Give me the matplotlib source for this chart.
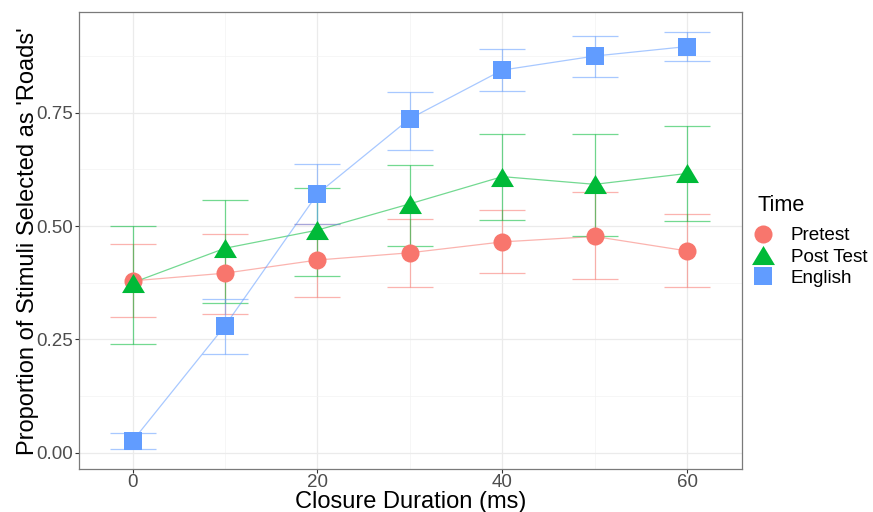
import matplotlib
matplotlib.use("Agg")
import matplotlib.pyplot as plt
from matplotlib.lines import Line2D
from matplotlib.path import Path
from matplotlib.ticker import FixedLocator

plt.rcParams['font.family'] = ['Liberation Sans', 'DejaVu Sans']

# ---- data ----
duration = [0, 10, 20, 30, 40, 50, 60]
series_names = ["Pretest", "Post Test", "English"]
legend_title = "Time"

pre_mean = [0.379, 0.396, 0.425, 0.441, 0.465, 0.477, 0.445]
pre_lo   = [0.299, 0.306, 0.344, 0.366, 0.397, 0.384, 0.366]
pre_hi   = [0.460, 0.483, 0.505, 0.516, 0.535, 0.574, 0.527]

post_mean = [0.375, 0.451, 0.491, 0.549, 0.609, 0.592, 0.616]
post_lo   = [0.240, 0.331, 0.389, 0.455, 0.513, 0.478, 0.510]
post_hi   = [0.499, 0.558, 0.584, 0.635, 0.702, 0.703, 0.721]

eng_mean = [0.026, 0.280, 0.571, 0.737, 0.844, 0.875, 0.896]
eng_lo   = [0.009, 0.217, 0.505, 0.668, 0.798, 0.829, 0.864]
eng_hi   = [0.043, 0.340, 0.637, 0.796, 0.890, 0.919, 0.927]

x_ticks = [0, 20, 40, 60]
y_ticks = [0.00, 0.25, 0.50, 0.75]
y_tick_labels = ["0.00", "0.25", "0.50", "0.75"]

# ---- style ----
colors = ["#F8766D", "#00BA38", "#619CFF"]
tri = Path([(0, 1), (-1.2, -1), (1.2, -1), (0, 1)],
           [Path.MOVETO, Path.LINETO, Path.LINETO, Path.CLOSEPOLY])
markers = ["o", tri, "s"]
msizes = [13.0, 16.5, 12.9]

fig = plt.figure(figsize=(8.73, 5.12), dpi=100)
W, H = 873, 512
left, right, top, bottom = 79, 741.7, 12.3, 469
ax = fig.add_axes([left / W, (H - bottom) / H, (right - left) / W, (bottom - top) / H])

data = [(pre_mean, pre_lo, pre_hi), (post_mean, post_lo, post_hi), (eng_mean, eng_lo, eng_hi)]

for (m, lo, hi), c in zip(data, colors):
    yerr = [[mm - l for mm, l in zip(m, lo)], [h - mm for mm, h in zip(m, hi)]]
    ax.errorbar(duration, m, yerr=yerr, fmt='none', ecolor=c, elinewidth=0.9,
                capsize=16.6, capthick=0.9, alpha=0.55, zorder=2)
    ax.plot(duration, m, color=c, lw=0.9, alpha=0.55, zorder=2)

for (m, lo, hi), c, mk, ms in zip(data, colors, markers, msizes):
    ax.plot(duration, m, linestyle='none', marker=mk, markersize=ms,
            color=c, markeredgewidth=0, zorder=3)

ax.set_xlim(-5.8, 65.9)
ax.set_ylim(-0.036, 0.9715)

ax.xaxis.set_major_locator(FixedLocator(x_ticks))
ax.xaxis.set_minor_locator(FixedLocator([10, 30, 50]))
ax.set_yticks(y_ticks)
ax.set_yticklabels(y_tick_labels)
ax.yaxis.set_minor_locator(FixedLocator([0.125, 0.375, 0.625, 0.875]))

ax.grid(which='major', color='#EBEBEB', lw=0.9)
ax.grid(which='minor', color='#F3F3F3', lw=0.5)
ax.set_axisbelow(True)

for s in ax.spines.values():
    s.set_color('#7A7A7A')
    s.set_linewidth(0.9)

ax.tick_params(which='major', length=3, width=0.8, color='#333333',
               labelcolor='#4D4D4D', labelsize=13.5)
ax.tick_params(axis='x', pad=0.5)
ax.tick_params(axis='y', pad=1.0)
ax.tick_params(which='minor', length=0)

ax.set_xlabel("Closure Duration (ms)", fontsize=17, color='black')
ax.xaxis.label.set_va('baseline')
ax.xaxis.set_label_coords(0.5, (bottom - 507.6) / (bottom - top))

ax.set_ylabel("Proportion of Stimuli Selected as 'Roads'", fontsize=17, color='black')
ax.yaxis.label.set_rotation_mode('anchor')
ax.yaxis.label.set_va('baseline')
ax.yaxis.label.set_ha('center')
ax.yaxis.set_label_coords((34 - left) / (right - left), 0.5)

handles = [Line2D([], [], linestyle='none', marker=mk, markersize=ms, color=c,
                  markeredgewidth=0)
           for c, mk, ms in zip(colors, markers, msizes)]
leg = ax.legend(handles, series_names, frameon=False,
                loc='upper left', bbox_to_anchor=(757 / W, (H - 227) / H),
                bbox_transform=fig.transFigure, fontsize=13.6,
                handlelength=0.6, handletextpad=1.2, labelspacing=0.22,
                borderpad=0, borderaxespad=0)
fig.text(757 / W, (H - 210.7) / H, legend_title, fontsize=15.6, color='black',
         ha='left', va='baseline')

fig.savefig("out.png", dpi=100)
